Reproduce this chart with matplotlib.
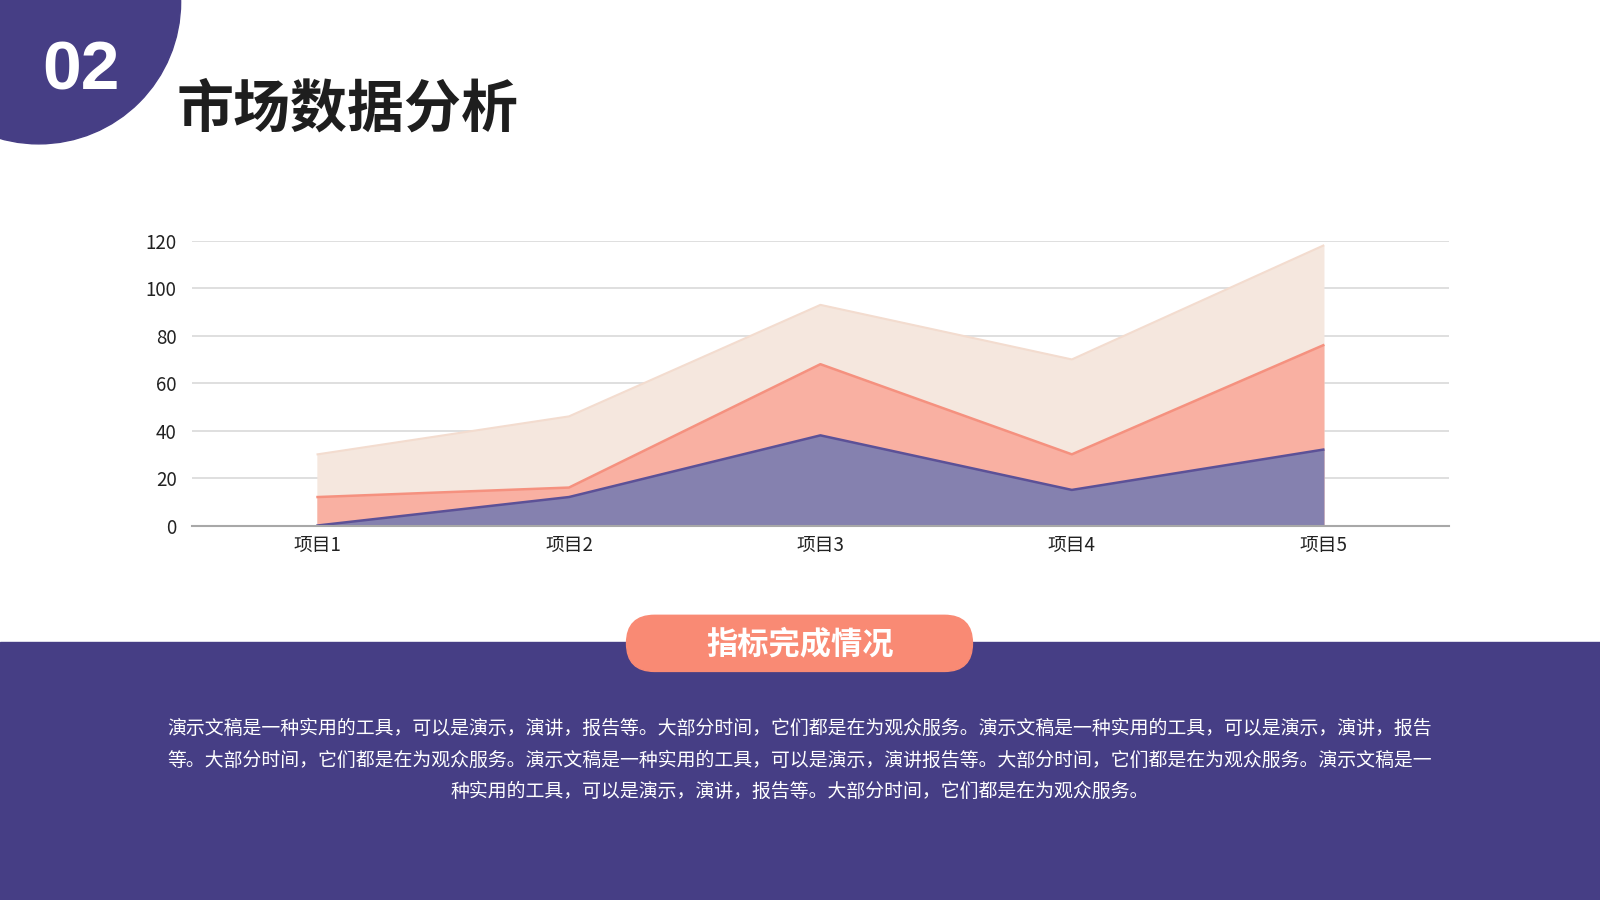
import matplotlib
matplotlib.use('Agg')
import matplotlib.pyplot as plt
from matplotlib.patches import Circle, Rectangle, FancyBboxPatch

plt.rcParams['font.family'] = ['Noto Sans CJK SC', 'DejaVu Sans']

# data
categories = ['项目1', '项目2', '项目3', '项目4', '项目5']
series_back = [30, 46, 93, 70, 118]
series_mid = [12, 16, 68, 30, 76]
series_front = [0, 12, 38, 15, 32]
y_ticks = [0, 20, 40, 60, 80, 100, 120]

title = '市场数据分析'
badge = '指标完成情况'
para_lines = [
    '演示文稿是一种实用的工具，可以是演示，演讲，报告等。大部分时间，它们都是在为观众服务。演示文稿是一种实用的工具，可以是演示，演讲，报告',
    '等。大部分时间，它们都是在为观众服务。演示文稿是一种实用的工具，可以是演示，演讲报告等。大部分时间，它们都是在为观众服务。演示文稿是一',
    '种实用的工具，可以是演示，演讲，报告等。大部分时间，它们都是在为观众服务。',
]

PURPLE = '#463E85'
SALMON = '#F98A74'

W, H = 1568, 882

def main():
    fig = plt.figure(figsize=(16, 9), dpi=100)

    # background layer in reference pixel coords
    bg = fig.add_axes([0, 0, 1, 1])
    bg.set_xlim(0, W)
    bg.set_ylim(H, 0)
    bg.axis('off')

    bg.add_patch(Circle((38, 2), 139, color=PURPLE, zorder=1))
    bg.text(79, 70, '02', color='white', fontsize=50, fontweight='bold',
            family='Liberation Sans', ha='center', va='center', zorder=2)
    bg.text(173, 107, title, color='#1E1E1E', fontsize=41, fontweight='bold',
            ha='left', va='center', zorder=2)

    bg.add_patch(Rectangle((0, 629), W, H - 629, color=PURPLE, zorder=1))
    bg.add_patch(FancyBboxPatch((614, 603), 339, 55,
                                boxstyle='round,pad=0,rounding_size=27.5',
                                color=SALMON, zorder=2))
    bg.text(784, 631, badge, color='white', fontsize=22.5, fontweight='bold',
            ha='center', va='center', zorder=3)

    for i, line in enumerate(para_lines):
        bg.text(784, 714 + 31 * i, line, color='white', fontsize=13.6,
                ha='center', va='center', zorder=3)

    # chart
    ax = fig.add_axes([188 / W, 1 - 515 / H, (1420 - 188) / W, (515 - 236) / H])
    x = list(range(len(categories)))
    ax.fill_between(x, 0, series_back, color='#F5E7DE', zorder=2)
    ax.plot(x, series_back, color='#F3DCCF', lw=1.5, zorder=2)
    ax.fill_between(x, 0, series_mid, color='#F9B0A2', zorder=3)
    ax.plot(x, series_mid, color='#F5917F', lw=1.8, zorder=3)
    ax.fill_between(x, 0, series_front, color='#8581AF', zorder=4)
    ax.plot(x, series_front, color='#5C5197', lw=1.8, zorder=4)

    ax.set_xlim(-0.5, len(categories) - 0.5)
    ax.set_ylim(0, 120)
    ax.set_yticks(y_ticks)
    ax.set_xticks(x)
    ax.set_xticklabels(categories)
    ax.tick_params(axis='both', length=0, labelsize=13.5, colors='#222222')
    ax.tick_params(axis='y', pad=11)
    ax.tick_params(axis='x', pad=7)
    ax.grid(axis='y', color='#D9D9D9', lw=1.2, zorder=0)
    ax.set_axisbelow(True)
    for s in ['top', 'right', 'left']:
        ax.spines[s].set_visible(False)
    ax.spines['bottom'].set_color('#A8A8A8')
    ax.spines['bottom'].set_linewidth(1.5)
    ax.spines['bottom'].set_zorder(5)
    ax.patch.set_alpha(0)

    fig.savefig('out.png', dpi=100)

if __name__ == "__main__":
    main()
